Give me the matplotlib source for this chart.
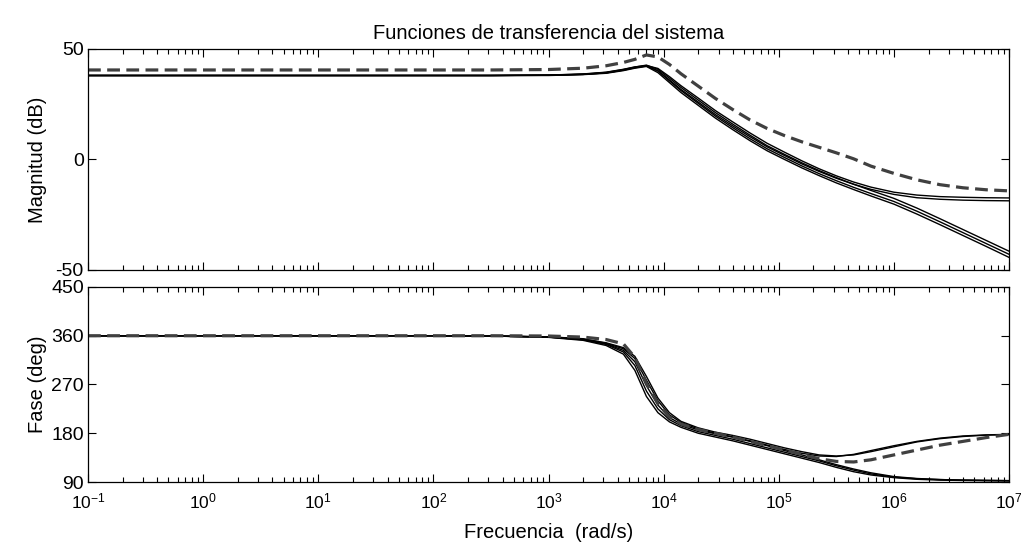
import numpy as np
import matplotlib
matplotlib.use('Agg')
import matplotlib.pyplot as plt
from matplotlib.ticker import FixedLocator, LogFormatterMathtext, NullFormatter

plt.rcParams['font.family'] = ['Liberation Sans', 'DejaVu Sans']
plt.rcParams['mathtext.default'] = 'regular'
plt.rcParams['axes.unicode_minus'] = False

# log10 de la frecuencia (rad/s) en los puntos leídos
log_w = [-1, 0, 1, 2, 2.5, 3.0, 3.3, 3.5, 3.65, 3.75, 3.85, 3.95, 4.05, 4.15, 4.3,
         4.45, 4.6, 4.75, 4.9, 5.05, 5.2, 5.35, 5.5, 5.65, 5.8, 6.0, 6.2, 6.4, 6.6, 6.8, 7.0]

# magnitud (dB)
mag_a = [38, 38, 38, 38, 38, 38.2, 38.7, 39.5, 40.8, 41.9, 42.5, 41.2, 37.5, 33.4, 27.8,
         22.1, 17.0, 12.0, 7.3, 3.3, -0.6, -4.2, -7.4, -10.2, -12.5, -14.8, -16.1, -16.8, -17.1, -17.3, -17.4]
mag_b = [38, 38, 38, 38, 38, 38.1, 38.5, 39.2, 40.4, 41.5, 42.3, 40.2, 36.0, 31.7, 26.0,
         20.3, 15.2, 10.3, 5.7, 1.8, -2.0, -5.4, -8.5, -11.2, -13.5, -15.8, -17.3, -18.0, -18.4, -18.6, -18.7]
mag_c = [38, 38, 38, 38, 38, 38.2, 38.6, 39.4, 40.7, 41.8, 42.7, 40.8, 36.8, 32.6, 26.9,
         21.2, 16.0, 11.0, 6.2, 2.3, -1.5, -5.0, -8.2, -11.2, -14.0, -17.6, -22.0, -26.8, -31.7, -36.6, -41.5]
mag_d = [38, 38, 38, 38, 38, 38.1, 38.5, 39.2, 40.5, 41.6, 42.4, 40.0, 35.6, 31.2, 25.4,
         19.6, 14.4, 9.4, 4.8, 0.9, -2.9, -6.4, -9.6, -12.6, -15.4, -19.0, -23.4, -28.2, -33.1, -38.0, -42.9]
mag_e = [38, 38, 38, 38, 38, 38.0, 38.4, 39.0, 40.2, 41.3, 42.1, 39.3, 34.8, 30.3, 24.5,
         18.7, 13.5, 8.5, 3.9, 0.0, -3.8, -7.3, -10.6, -13.6, -16.5, -20.2, -24.7, -29.5, -34.4, -39.3, -44.3]
mag_nom = [40.5, 40.5, 40.5, 40.5, 40.5, 40.7, 41.3, 42.4, 43.9, 45.3, 47.3, 46.4, 43.0, 38.8, 33.2,
           27.6, 22.6, 17.9, 14.0, 10.8, 8.0, 5.5, 3.0, 0.3, -3.0, -6.3, -9.2, -11.4, -12.8, -13.7, -14.2]

# fase (deg)
fase_a = [360, 360, 360, 360, 359.5, 357.5, 353, 345, 333, 312, 268, 232, 209, 197, 186,
          179, 173, 166, 158, 150, 143, 138, 137, 141, 148, 157, 165, 171, 175, 177, 178]
fase_b = [360, 360, 360, 360, 359.5, 358, 354, 347, 338, 322, 285, 245, 218, 202, 190,
          182, 176, 169, 161, 153, 146, 140, 138, 140, 146, 155, 164, 170, 174, 176.5, 177.5]
fase_c = [360, 360, 360, 360, 359.5, 357.5, 352.5, 344, 330, 305, 258, 225, 205, 194, 183,
          176, 169, 161, 153, 145, 137, 129, 120, 112, 105, 99, 96, 94.5, 93.5, 93, 92.5]
fase_d = [360, 360, 360, 360, 359.5, 357, 351.5, 342, 326, 296, 248, 218, 201, 191, 180,
          173, 166, 158, 150, 142, 134, 126, 117, 109, 103, 98, 95, 93.5, 92.8, 92.3, 92]
fase_e = [360, 360, 360, 360, 359.5, 358, 354.5, 346, 336, 318, 278, 240, 214, 200, 188,
          180, 173, 165, 157, 148, 140, 131, 122, 114, 107, 100, 96.5, 94.5, 93.5, 93, 92.5]
fase_nom = [360, 360, 360, 360, 360, 359.5, 357.5, 353, 345, 320, 272, 235, 210, 197, 187,
            180, 173, 165, 157, 149, 141, 133, 128, 127, 131, 140, 149, 158, 165, 172, 178]

# décadas del eje x
decadas = [-1, 0, 1, 2, 3, 4, 5, 6, 7]

w = 10.0 ** np.array(log_w)
major = 10.0 ** np.array(decadas, dtype=float)
minor = np.array([m * d for d in major[:-1] for m in range(2, 10)])

fig = plt.figure(figsize=(10.21, 5.46), dpi=100)
ax1 = fig.add_axes([0.0862, 0.5055, 0.9021, 0.4048])
ax2 = fig.add_axes([0.0862, 0.1172, 0.9021, 0.3572])

solid_kw = dict(color='black', linewidth=1.0)
nom_kw = dict(color='#404040', linewidth=2.3, linestyle=(0, (4, 2)))

for m in [mag_a, mag_b, mag_c, mag_d, mag_e]:
    ax1.semilogx(w, m, **solid_kw)
ax1.semilogx(w, mag_nom, **nom_kw)

for f in [fase_a, fase_b, fase_c, fase_d, fase_e]:
    ax2.semilogx(w, f, **solid_kw)
ax2.semilogx(w, fase_nom, **nom_kw)

ax1.set_ylim(-50, 50)
ax1.set_yticks([-50, 0, 50])
ax2.set_ylim(90, 450)
ax2.set_yticks([90, 180, 270, 360, 450])

for ax in (ax1, ax2):
    ax.set_xlim(1e-1, 1e7)
    ax.xaxis.set_major_locator(FixedLocator(major))
    ax.xaxis.set_minor_locator(FixedLocator(minor))
    ax.xaxis.set_minor_formatter(NullFormatter())
    ax.tick_params(which='both', direction='in', top=True, right=True, labelsize=14)
    ax.tick_params(which='major', length=6, width=0.8)
    ax.tick_params(which='minor', length=3.5, width=0.8)
    ax.tick_params(axis='y', pad=3)
    for s in ax.spines.values():
        s.set_linewidth(0.9)

ax1.xaxis.set_major_formatter(NullFormatter())
ax2.xaxis.set_major_formatter(LogFormatterMathtext())
ax2.tick_params(axis='x', pad=7, labelsize=12.5)

ax1.set_title('Funciones de transferencia del sistema', fontsize=14.5, pad=7)
ax1.set_ylabel('Magnitud (dB)', fontsize=14.5)
ax2.set_ylabel('Fase (deg)', fontsize=14.5)
ax2.set_xlabel('Frecuencia  (rad/s)', fontsize=14.5, labelpad=8)
ax1.yaxis.set_label_coords(-0.045, 0.5)
ax2.yaxis.set_label_coords(-0.045, 0.5)

fig.savefig('out.png', dpi=100, facecolor='white')
